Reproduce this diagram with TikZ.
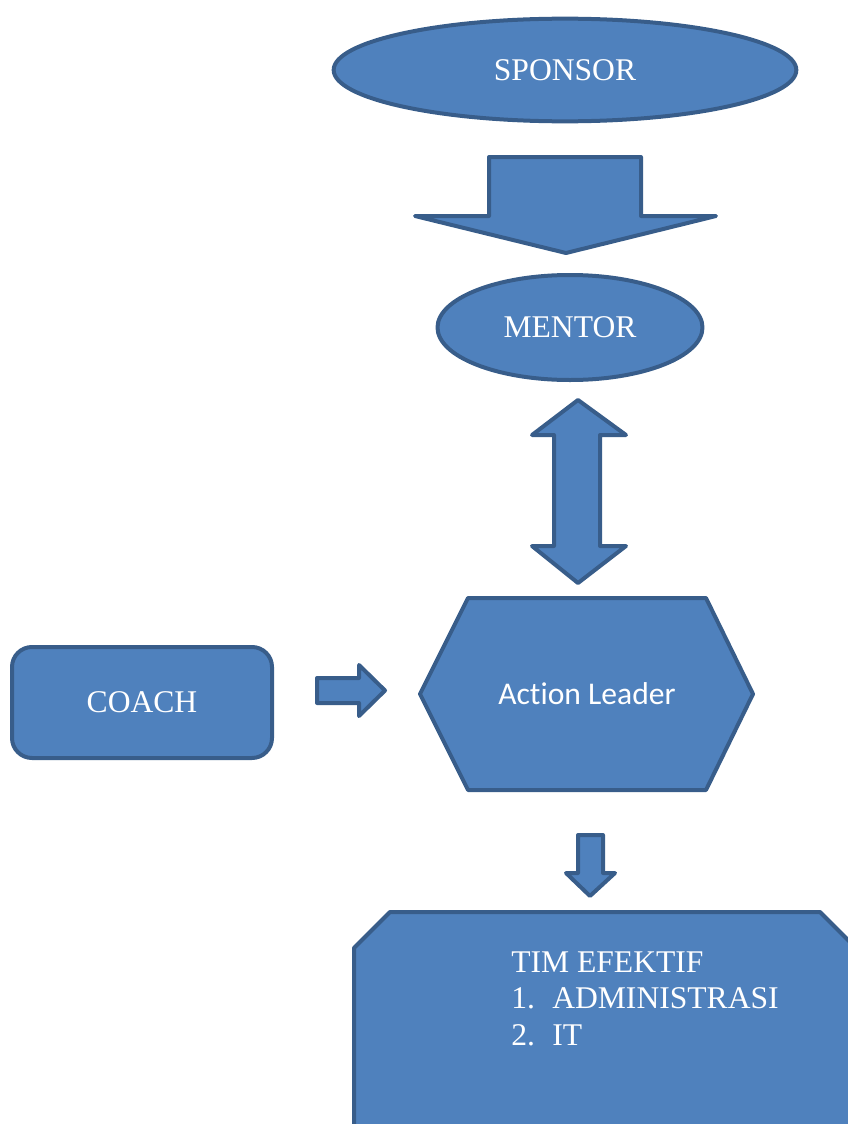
\documentclass[tikz,border=0pt]{standalone}
\usepackage{fontspec}
\setmainfont{Liberation Serif}
\newfontfamily\leadfont[Ligatures=NoCommon]{Carlito}
\usepackage{xcolor}
\usetikzlibrary{shapes.geometric}
\definecolor{boxblue}{HTML}{4F81BD}
\definecolor{edgeblue}{HTML}{385D8A}

\begin{document}
\begin{tikzpicture}[
  x=0.75pt, y=-0.75pt,
  font=\fontsize{23.7}{27.4}\selectfont,
  blk/.style={draw=edgeblue, fill=boxblue, line width=3pt, line join=round},
  oval/.style={blk, ellipse, text=white, inner sep=0pt},
  coachbox/.style={blk, rounded corners=15pt, text=white,
                   minimum width=195pt, minimum height=83.25pt},
  lbl/.style={text=white, inner sep=0pt}
]
\useasboundingbox (0,0) rectangle (848,1124);
\clip (0,0) rectangle (848,1124);
% ovals
\node[oval, minimum width=347pt, minimum height=77pt] (spon) at (565,70) {SPONSOR};
\node[oval, minimum width=198.75pt, minimum height=78.75pt] (ment) at (570,327.5) {MENTOR};
% coach
\node[coachbox] (coach) at (142,702.5) {COACH};
% action leader (hexagon)
\draw[blk] (468,598) -- (706,598) -- (753,694) -- (706,790)
  -- (468,790) -- (420,694) -- cycle;
\node[lbl, font=\leadfont\fontsize{23.7}{27.4}\selectfont] (lead) at (587,694) {Action Leader};
% effective team (cut corners, runs off the page)
\draw[blk] (390,912) -- (820,912) -- (856,948) -- (856,1140)
  -- (354,1140) -- (354,948) -- cycle;
\node[lbl, anchor=base west] (team) at (511,972)
  {\begin{tabular}[t]{@{}p{30.75pt}@{}l@{}}
   \multicolumn{2}{@{}l@{}}{TIM EFEKTIF}\\
   1. & ADMINISTRASI\\
   2. & IT
   \end{tabular}};
% sponsor -> mentor
\draw[blk] (489,157) -- (641,157) -- (641,216) -- (716,216) -- (566,253)
  -- (415,216) -- (489,216) -- cycle;
% mentor <-> action leader
\draw[blk] (578,400) -- (626,435) -- (600,435) -- (600,546) -- (626,546)
  -- (578,583) -- (532,546) -- (554,546) -- (554,435) -- (532,435) -- cycle;
% coach -> action leader
\draw[blk] (317,678) -- (359,678) -- (359,665) -- (385,690.5) -- (359,716)
  -- (359,703) -- (317,703) -- cycle;
% action leader -> team
\draw[blk] (578,835) -- (603,835) -- (603,873) -- (615,873) -- (590,896)
  -- (566,873) -- (578,873) -- cycle;
\end{tikzpicture}
\end{document}
